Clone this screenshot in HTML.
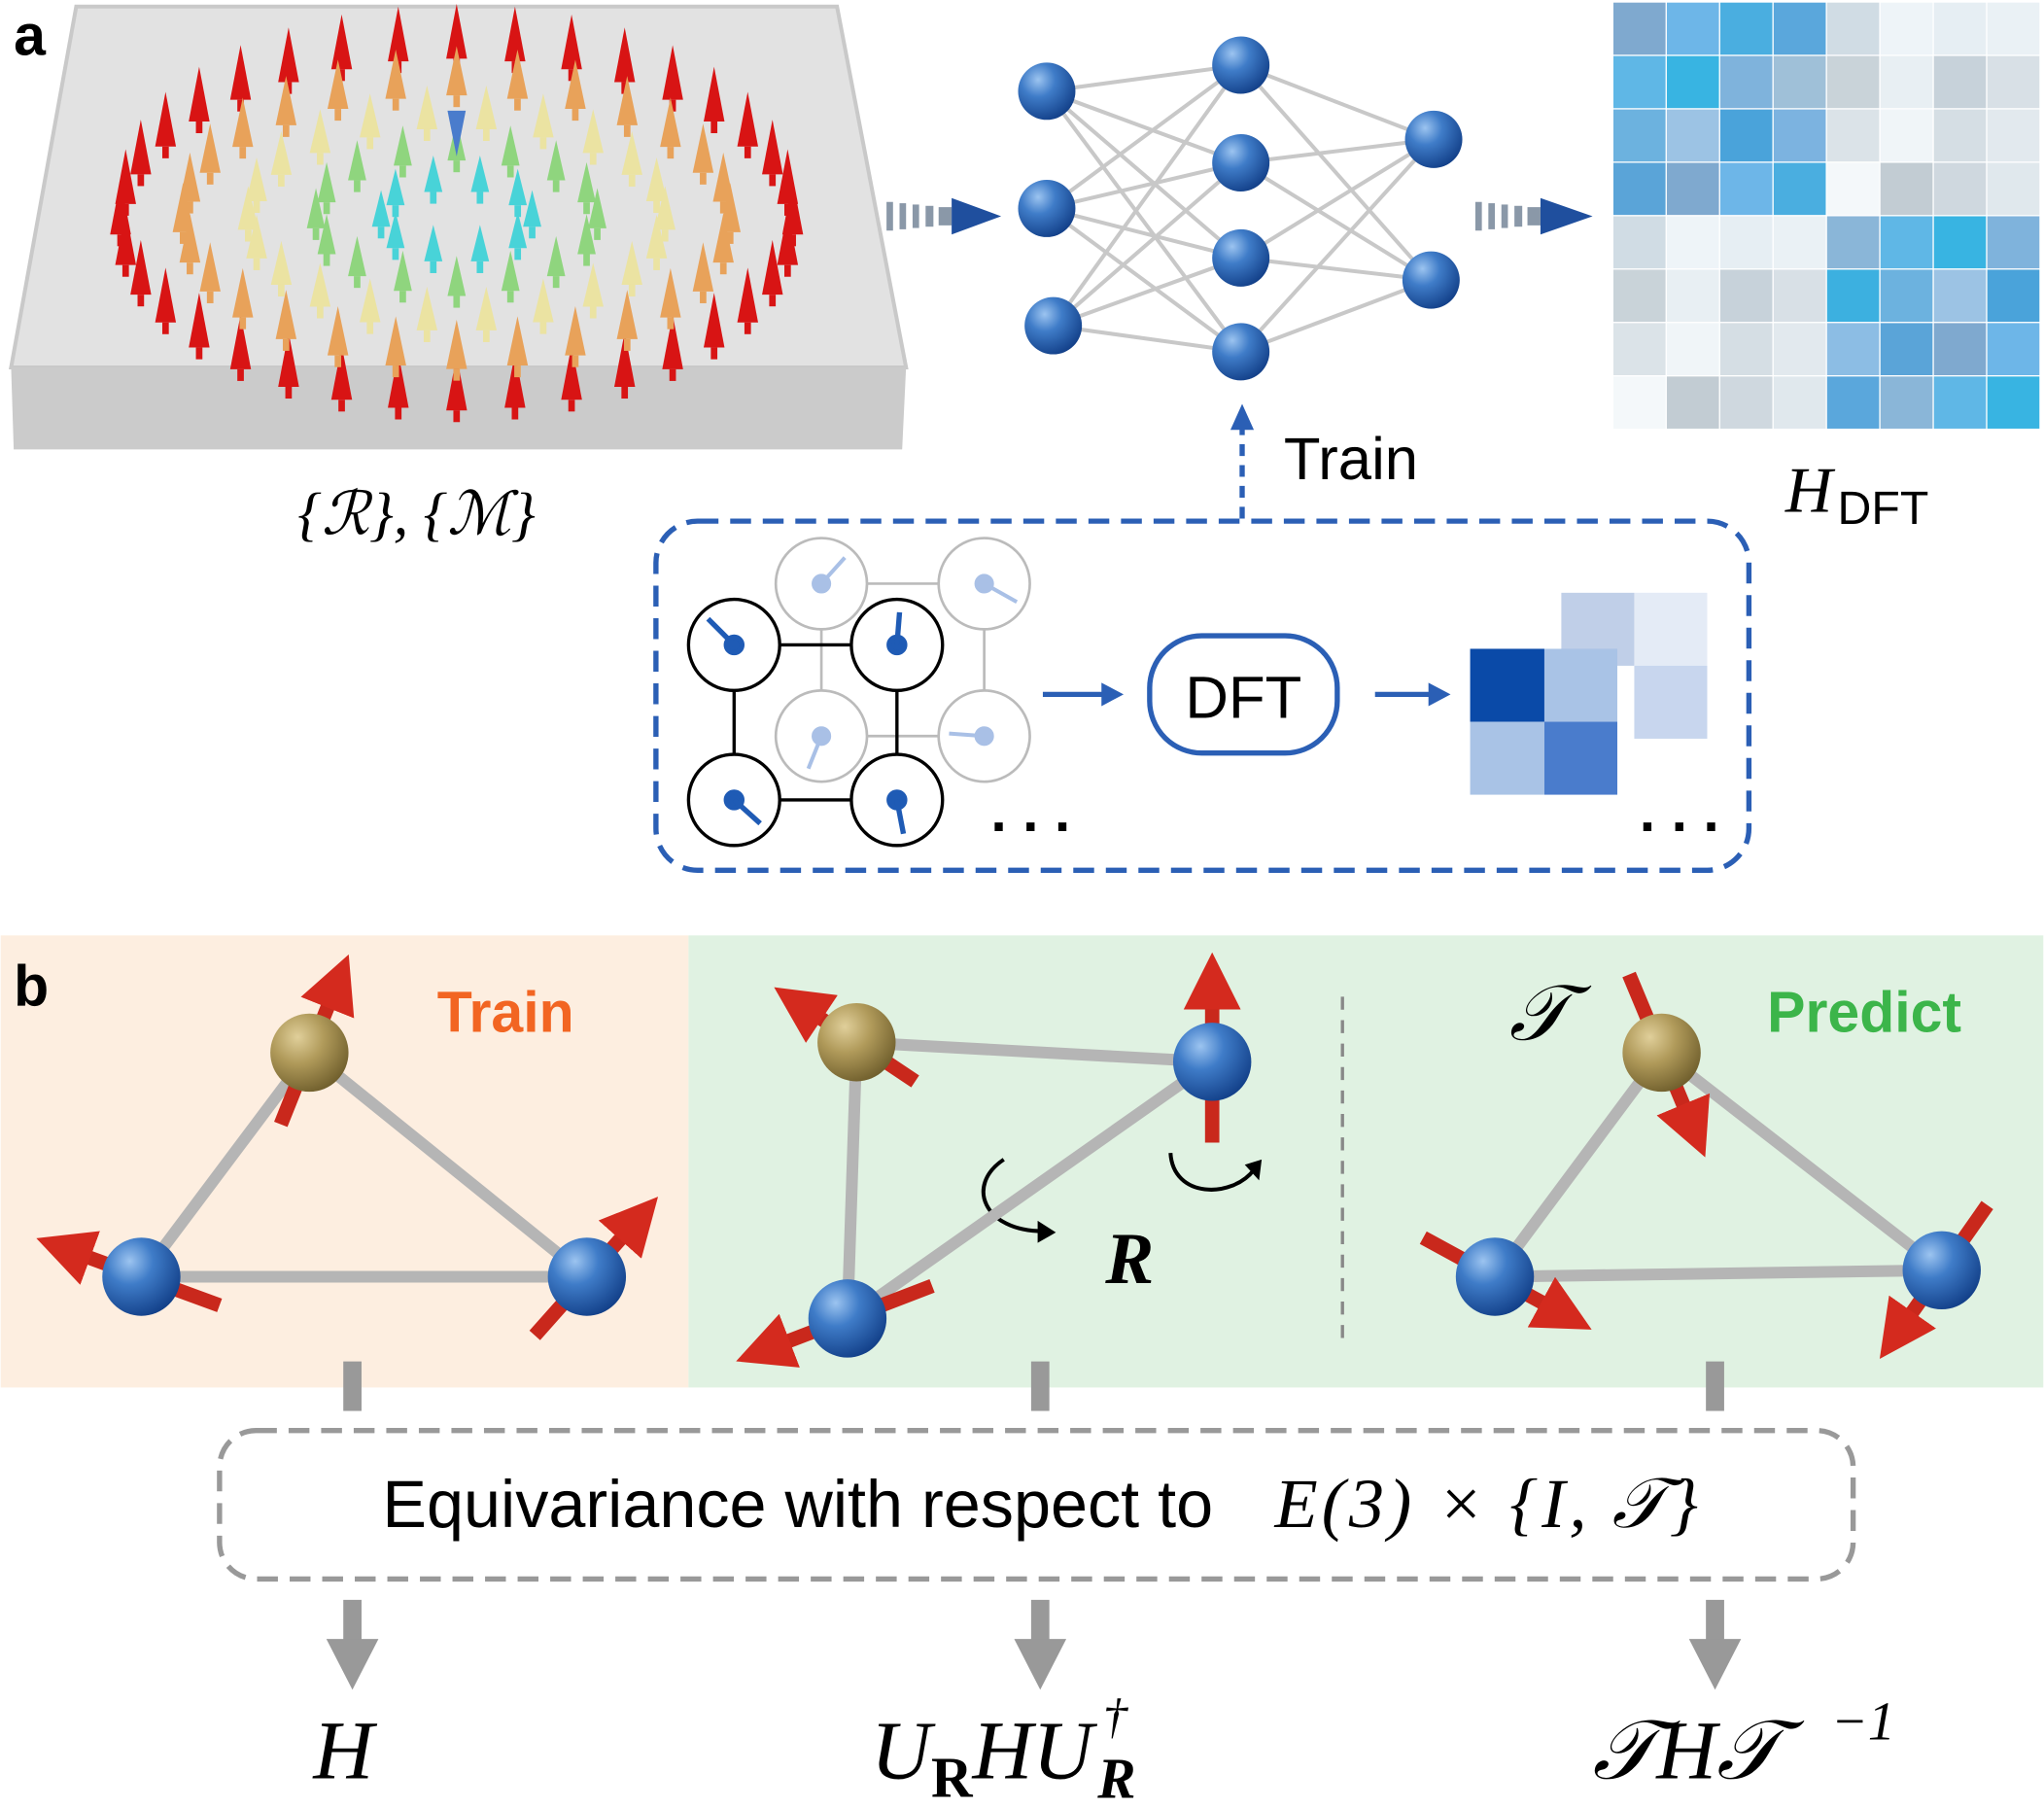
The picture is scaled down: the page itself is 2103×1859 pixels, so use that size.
<!DOCTYPE html>
<html><head><meta charset="utf-8">
<style>
html,body{margin:0;padding:0;background:#fff;}
svg{display:block;}
.sans{font-family:"Liberation Sans",sans-serif;}
.serif{font-family:"Liberation Serif",serif;font-style:italic;}
</style></head>
<body>
<svg id="s" width="2103" height="1859" viewBox="0 0 1568 1387" xmlns="http://www.w3.org/2000/svg">
<defs>
<radialGradient id="bl" cx="0.35" cy="0.3" r="0.75"><stop offset="0" stop-color="#9cc4f0"/><stop offset="0.4" stop-color="#3f7cc8"/><stop offset="1" stop-color="#123f88"/></radialGradient>
<radialGradient id="gd" cx="0.35" cy="0.3" r="0.75"><stop offset="0" stop-color="#e0cf9a"/><stop offset="0.45" stop-color="#b09a5a"/><stop offset="1" stop-color="#6f5e2c"/></radialGradient>
<marker id="ra" markerWidth="4" markerHeight="4" refX="2" refY="2" orient="auto"><path d="M0,0L4,2L0,4z" fill="#d42a1e"/></marker>
</defs>
<rect width="1568" height="1387" fill="#fff"/>
<polygon points="58,5 642,5 695,282 8,282" fill="#e2e2e2" stroke="#c9c9c9" stroke-width="3"/>
<polygon points="8,282 695,282 692,345 10,345" fill="#cbcbcb"/>
<g id="arrows"></g>
<text x="10" y="42" class="sans" font-weight="bold" font-size="44">a</text>
<text x="228" y="410" class="serif" font-size="46" font-style="normal">{<tspan font-style="italic">ℛ</tspan>}, {<tspan font-style="italic">ℳ</tspan>}</text>
<g fill="#8a98a8"><rect x="680" y="155" width="5" height="22"/><rect x="690" y="156" width="5" height="20"/><rect x="700" y="157" width="5" height="18"/><rect x="710" y="158" width="6" height="16"/><rect x="720" y="159" width="10" height="14"/></g>
<polygon points="730,152 768,166 730,180" fill="#1f4f9e"/>
<g fill="#8a98a8"><rect x="1132" y="155" width="5" height="22"/><rect x="1142" y="156" width="5" height="20"/><rect x="1152" y="157" width="5" height="18"/><rect x="1162" y="158" width="6" height="16"/><rect x="1172" y="159" width="10" height="14"/></g>
<polygon points="1182,152 1222,166 1182,180" fill="#1f4f9e"/>
<g id="net"></g>
<g id="mat"></g>
<text x="1370" y="393" class="serif" font-size="50">H</text><text x="1410" y="402" class="sans" font-size="36">DFT</text>
<text x="985" y="368" class="sans" font-size="46">Train</text>
<line x1="953" y1="398" x2="953" y2="322" stroke="#2b5fb5" stroke-width="4" stroke-dasharray="9,7"/>
<polygon points="944,330 953,310 962,330" fill="#2b5fb5"/>
<rect x="503" y="400" width="839" height="268" rx="32" fill="none" stroke="#2b5fb5" stroke-width="4" stroke-dasharray="16,9"/>
<g stroke="#bbb" stroke-width="2" fill="#fff">
<line x1="630" y1="448" x2="755" y2="448"/><line x1="630" y1="448" x2="630" y2="565"/><line x1="755" y1="448" x2="755" y2="565"/><line x1="630" y1="565" x2="755" y2="565"/>
<circle cx="630" cy="448" r="35"/><circle cx="755" cy="448" r="35"/><circle cx="630" cy="565" r="35"/><circle cx="755" cy="565" r="35"/>
</g>
<g stroke="#a9c0e6" stroke-width="3" fill="#a9c0e6">
<circle cx="630" cy="448" r="6"/><line x1="630" y1="448" x2="648" y2="428"/>
<circle cx="755" cy="448" r="6"/><line x1="755" y1="448" x2="780" y2="462"/>
<circle cx="630" cy="565" r="6"/><line x1="630" y1="565" x2="620" y2="590"/>
<circle cx="755" cy="565" r="6"/><line x1="755" y1="565" x2="728" y2="563"/>
</g>
<g stroke="#000" stroke-width="2.5" fill="none">
<line x1="563" y1="495" x2="688" y2="495"/><line x1="563" y1="495" x2="563" y2="614"/><line x1="688" y1="495" x2="688" y2="614"/><line x1="563" y1="614" x2="688" y2="614"/>
<circle cx="563" cy="495" r="35" fill="#fff"/><circle cx="688" cy="495" r="35" fill="#fff"/><circle cx="563" cy="614" r="35" fill="#fff"/><circle cx="688" cy="614" r="35" fill="#fff"/>
</g>
<g stroke="#1f5bb5" stroke-width="4" fill="#1f5bb5">
<circle cx="563" cy="495" r="6"/><line x1="563" y1="495" x2="543" y2="475"/>
<circle cx="688" cy="495" r="6"/><line x1="688" y1="495" x2="690" y2="470"/>
<circle cx="563" cy="614" r="6"/><line x1="563" y1="614" x2="583" y2="632"/>
<circle cx="688" cy="614" r="6"/><line x1="688" y1="614" x2="693" y2="640"/>
</g>
<text x="760" y="638" class="sans" font-size="44" font-weight="bold">. . .</text>
<text x="1258" y="638" class="sans" font-size="44" font-weight="bold">. . .</text>
<line x1="800" y1="533" x2="850" y2="533" stroke="#2b5fb5" stroke-width="4"/><polygon points="845,524 862,533 845,542" fill="#2b5fb5"/>
<rect x="882" y="488" width="144" height="90" rx="40" fill="#fff" stroke="#2b5fb5" stroke-width="4"/>
<text x="954" y="551" class="sans" font-size="46" text-anchor="middle">DFT</text>
<line x1="1055" y1="533" x2="1100" y2="533" stroke="#2b5fb5" stroke-width="4"/><polygon points="1096,524 1113,533 1096,542" fill="#2b5fb5"/>
<rect x="1198" y="455" width="56" height="56" fill="#c0cfe8"/><rect x="1254" y="455" width="56" height="56" fill="#e4ebf6"/><rect x="1254" y="511" width="56" height="56" fill="#c8d6ee"/>
<rect x="1128" y="498" width="57" height="56" fill="#0a4aa8"/><rect x="1185" y="498" width="56" height="56" fill="#a9c3e6"/><rect x="1128" y="554" width="57" height="56" fill="#a9c3e6"/><rect x="1185" y="554" width="56" height="56" fill="#4a7ccc"/>
<rect x="0" y="718" width="528" height="347" fill="#fdeee0"/>
<rect x="528" y="718" width="1040" height="347" fill="#e0f2e2"/>
<text x="10" y="772" class="sans" font-weight="bold" font-size="44">b</text>
<text x="335" y="792" class="sans" font-weight="bold" font-size="44" fill="#f26522">Train</text>
<text x="1356" y="792" class="sans" font-weight="bold" font-size="44" fill="#3cb54a">Predict</text>
<line x1="1030" y1="765" x2="1030" y2="1035" stroke="#888" stroke-width="2.5" stroke-dasharray="10,8"/>
<text x="1158" y="798" class="serif" font-size="60">𝒯</text>
<text x="848" y="985" class="serif" font-size="56" font-weight="bold" font-style="normal">R</text>
<path d="M770,890 C740,910 755,945 800,945" fill="none" stroke="#000" stroke-width="3"/><polygon points="796,937 810,946 796,954" fill="#000"/>
<path d="M898,885 C900,920 945,920 962,898" fill="none" stroke="#000" stroke-width="3"/><polygon points="955,894 968,890 966,906" fill="#000"/>
<g id="mol"></g>
<g fill="#999"><rect x="263" y="1045" width="14" height="38"/><rect x="791" y="1045" width="14" height="38"/><rect x="1309" y="1045" width="14" height="38"/></g>
<rect x="168" y="1098" width="1254" height="114" rx="28" fill="none" stroke="#999" stroke-width="4" stroke-dasharray="16,9"/>
<text x="293" y="1172" class="sans" font-size="51">Equivariance with respect to</text>
<text x="978" y="1172" class="serif" font-size="54" font-style="normal" letter-spacing="3"><tspan font-style="italic">E</tspan>(3) × {<tspan font-style="italic">I</tspan>, <tspan font-style="italic">𝒯</tspan>}</text>
<g fill="#999">
<rect x="263" y="1228" width="14" height="35"/><polygon points="250,1258 290,1258 270,1297"/>
<rect x="791" y="1228" width="14" height="35"/><polygon points="778,1258 818,1258 798,1297"/>
<rect x="1309" y="1228" width="14" height="35"/><polygon points="1296,1258 1336,1258 1316,1297"/>
</g>
<text x="240" y="1365" class="serif" font-size="64">H</text>
<text x="668" y="1365" class="serif" font-size="64">U<tspan font-size="44" font-style="normal" font-weight="bold" dy="14">R</tspan><tspan dy="-14">HU</tspan></text>
<text x="846" y="1330" class="serif" font-size="38" font-style="normal">†</text>
<text x="842" y="1380" class="serif" font-size="44" font-style="normal" font-weight="bold">R</text>
<text x="1222" y="1365" class="serif" font-size="64">𝒯H𝒯</text>
<text x="1405" y="1335" class="serif" font-size="42" font-style="normal">−1</text>
</svg>
<script>
var NS="http://www.w3.org/2000/svg";
function el(p,t,a){var e=document.createElementNS(NS,t);for(var k in a)e.setAttribute(k,a[k]);p.appendChild(e);return e;}
var A=document.getElementById("arrows");
var rings=[[258,135,"#d81414",36,30,8],[210,105,"#e8a25a",28,27,8],[160,78,"#ebe3a2",22,24,8],[108,52,"#8fd57e",16,22,7],[58,28,"#48d3d8",10,20,7]];
var cx=350,cy=162;
rings.forEach(function(r){
 for(var i=0;i<r[3];i++){var t=i/r[3]*2*Math.PI;var x=cx+r[0]*Math.cos(t),y=cy+r[1]*Math.sin(t)+r[4]*0.6;
  var h=r[4],w=r[5];el(A,"polygon",{points:(x-w)+","+(y)+" "+(x+w)+","+(y)+" "+x+","+(y-h*1.4),fill:r[2]});
  el(A,"rect",{x:x-2.5,y:y,width:5,height:9,fill:r[2]});}
});
el(A,"polygon",{points:"343,85 357,85 350,120",fill:"#4a7ccc"});
var N=document.getElementById("net");
var L=[[803,70],[803,160],[808,250]],M=[[952,50],[952,125],[952,198],[952,270]],R=[[1100,107],[1098,215]];
L.forEach(function(a){M.forEach(function(b){el(N,"line",{x1:a[0],y1:a[1],x2:b[0],y2:b[1],stroke:"#c8c8c8","stroke-width":3});});});
M.forEach(function(a){R.forEach(function(b){el(N,"line",{x1:a[0],y1:a[1],x2:b[0],y2:b[1],stroke:"#c8c8c8","stroke-width":3});});});
L.concat(M,R).forEach(function(p){el(N,"circle",{cx:p[0],cy:p[1],r:22,fill:"url(#bl)"});});
var G=document.getElementById("mat");
var blues=["#7fa9cf","#6db6e8","#4aaee0","#5aa7dc","#8ab6d8","#5fb7e6","#38b4e2","#7fb3dc","#9fc0d8","#3cb0e0","#6cb2df","#9cc3e4","#4aa3da","#7cb3e0","#8cbde4","#5aa4d8"];
var grays=["#d0dce4","#e2e9ee","#c7d2da","#eef4f8","#f4f8fa","#d8e0e6","#e6eef3","#c2ccd3","#dbe3e8","#eaf1f5","#cfd8df","#f0f5f8","#c9d3d9","#e0e8ed","#d5dee4","#e8eff3"];
for(var r=0;r<8;r++)for(var c=0;c<8;c++){var diag=(r<4&&c<4)||(r>=4&&c>=4);var k=(r%4)*4+(c%4);
 el(G,"rect",{x:1238+c*41,y:2+r*41,width:40,height:40,fill:diag?blues[(k+r)%16]:grays[(k*3)%16]});}
var Mo=document.getElementById("mol");
function bond(a,b){el(Mo,"line",{x1:a[0],y1:a[1],x2:b[0],y2:b[1],stroke:"#b5b5b5","stroke-width":9,"stroke-linecap":"round"});}
function spin(p,dx,dy){el(Mo,"line",{x1:p[0]-dx,y1:p[1]-dy,x2:p[0]+dx,y2:p[1]+dy,stroke:"#c9281c","stroke-width":11,"marker-end":"url(#ra)"});}
function ball(p,g){el(Mo,"circle",{cx:p[0],cy:p[1],r:30,fill:g});}
var tris=[[[237,808,"gd",22,-55],[108,980,"bl",-60,-22],[450,980,"bl",40,-45]],
[[657,800,"gd",-45,-30],[930,815,"bl",0,-62],[650,1012,"bl",-65,25]],
[[1275,808,"gd",25,60],[1147,980,"bl",55,30],[1490,975,"bl",-35,50]]];
tris.forEach(function(t){bond(t[0],t[1]);bond(t[1],t[2]);bond(t[2],t[0]);
 t.forEach(function(p){spin(p,p[3],p[4]);ball(p,"url(#"+p[2]+")");});});
</script>
</body></html>
